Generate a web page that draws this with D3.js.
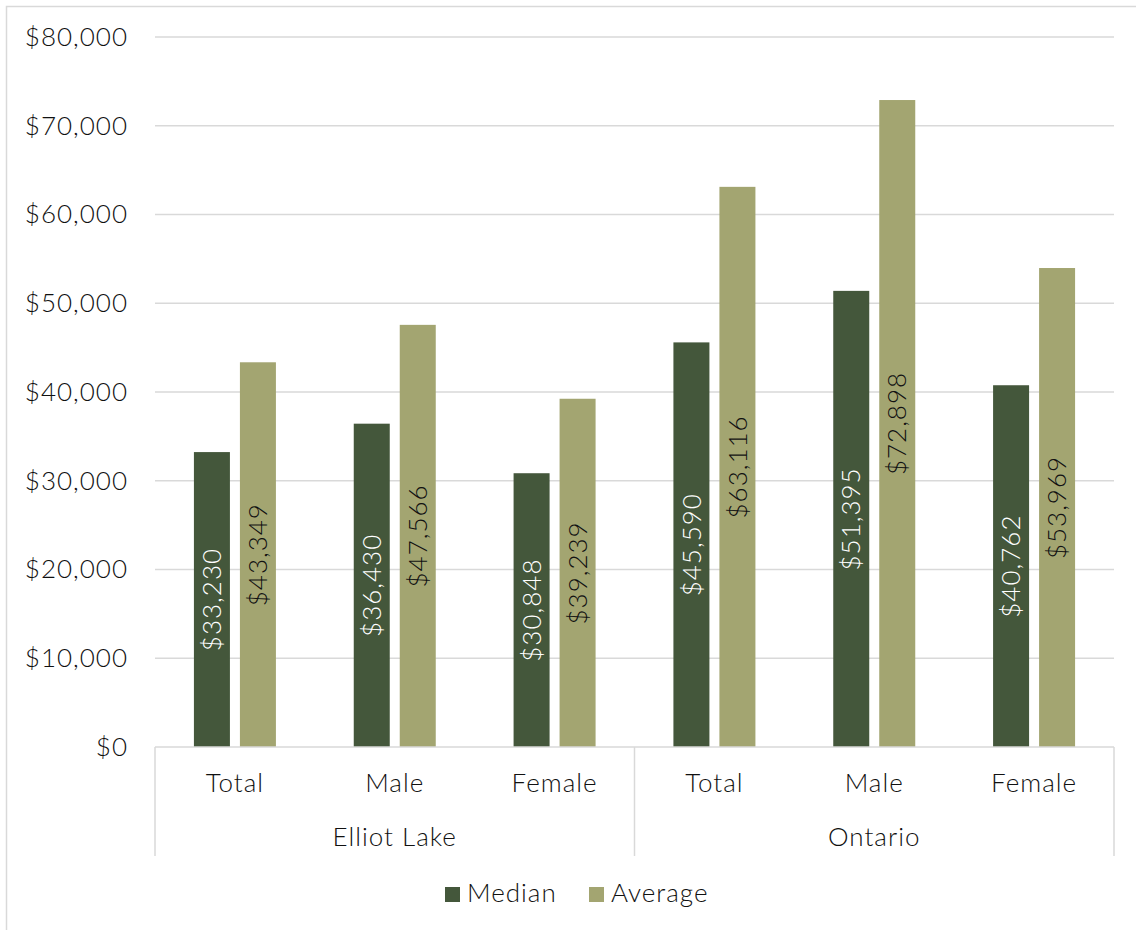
<!DOCTYPE html>
<html><head><meta charset="utf-8">
<script src="https://cdn.jsdelivr.net/npm/d3@7"></script>
<style>body{margin:0;background:#fff}svg{display:block}text{font-family:Lato,"Open Sans",sans-serif;font-weight:300;letter-spacing:1px}</style>
</head><body><svg id="c" width="1136" height="930"></svg>
<script>
const groups = ["Elliot Lake", "Ontario"];
const subcats = ["Total", "Male", "Female"];
const series = ["Median", "Average"];
const median = [33230, 36430, 30848, 45590, 51395, 40762];
const average = [43349, 47566, 39239, 63116, 72898, 53969];
const yTicks = [0, 10000, 20000, 30000, 40000, 50000, 60000, 70000, 80000];
const colors = ["#44573b", "#a3a571"];
const labelColors = ["#ffffff", "#111111"];
const FS = 26, TXT = "#111111";

const svg = d3.select("#c");
const L = 155, R = 1114, T = 37, B = 747;
svg.append("rect").attr("x",6.5).attr("y",6.5).attr("width",1140).attr("height",940)
  .attr("fill","none").attr("stroke","#d9d9d9").attr("stroke-width",1.5);

const cats = [];
groups.forEach(g => subcats.forEach(s => cats.push(g + "|" + s)));
const x0 = d3.scaleBand().domain(cats).range([L, R]);
const x1 = d3.scaleBand().domain(series).range([-41, 41]).paddingInner(10/46);
const y = d3.scaleLinear().domain([0, 80000]).range([B, T]);
const fmt = d3.format("$,");

// gridlines
svg.append("g").selectAll("line").data(yTicks.slice(1)).join("line")
  .attr("x1", L).attr("x2", R).attr("y1", d => y(d)).attr("y2", d => y(d))
  .attr("stroke", "#d9d9d9").attr("stroke-width", 1.5);
// y labels
const yAxis = svg.append("g").attr("transform", `translate(${L},0)`)
  .call(d3.axisLeft(y).tickValues(yTicks).tickFormat(fmt).tickSize(0).tickPadding(27));
yAxis.select(".domain").remove();
yAxis.selectAll("text").attr("font-size", FS).attr("fill", TXT)
  .style("font-family", "Lato,sans-serif").style("font-weight", 300).style("letter-spacing", "1px");

// bars
const rows = cats.map((c, i) => ({c, vals: [median[i], average[i]]}));
const gBars = svg.append("g");
rows.forEach(r => {
  r.vals.forEach((v, si) => {
    const cx = x0(r.c) + x0.bandwidth() / 2 + x1(series[si]);
    gBars.append("rect").attr("x", cx).attr("y", y(v)).attr("width", x1.bandwidth())
      .attr("height", y(0) - y(v)).attr("fill", colors[si]);
    const tx = cx + x1.bandwidth() / 2, ty = (y(v) + y(0)) / 2;
    gBars.append("text").attr("transform", `translate(${tx},${ty}) rotate(-90)`)
      .attr("text-anchor", "middle").attr("dy", "0.35em").attr("font-size", FS)
      .attr("fill", labelColors[si]).text(fmt(v));
  });
});

// category axis
const ax = svg.append("g").attr("stroke", "#d9d9d9").attr("stroke-width", 1.5);
ax.append("line").attr("x1", L).attr("x2", R).attr("y1", B).attr("y2", B);
[L, x0(cats[3]), R].forEach(xx => ax.append("line").attr("x1", xx).attr("x2", xx).attr("y1", B).attr("y2", 856));
svg.append("g").selectAll("text").data(cats).join("text")
  .attr("x", d => x0(d) + x0.bandwidth() / 2).attr("y", 792)
  .attr("text-anchor", "middle").attr("font-size", FS).attr("fill", TXT)
  .text(d => d.split("|")[1]);
svg.append("g").selectAll("text").data(groups).join("text")
  .attr("x", (d, i) => x0(cats[i * 3]) + x0.bandwidth() * 1.5).attr("y", 846)
  .attr("text-anchor", "middle").attr("font-size", FS).attr("fill", TXT)
  .text(d => d);

// legend
const legX = [445, 589];
series.forEach((s, i) => {
  svg.append("rect").attr("x", legX[i]).attr("y", 887).attr("width", 15).attr("height", 15).attr("fill", colors[i]);
  svg.append("text").attr("x", legX[i] + 22).attr("y", 902).attr("font-size", FS).attr("fill", TXT).text(s);
});
</script></body></html>
